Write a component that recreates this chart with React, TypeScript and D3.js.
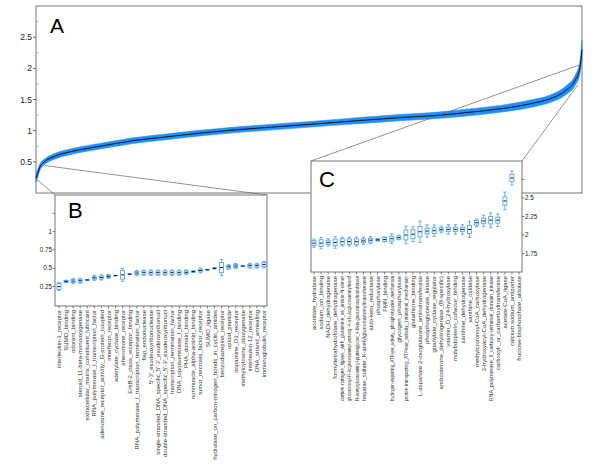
import React from 'react';
import * as d3 from 'd3';

// Panel A: sorted medians (rank fraction -> value) with spread
const aRank = [0, 0.0037, 0.0073, 0.0128, 0.02, 0.029, 0.044, 0.062, 0.09, 0.117, 0.178, 0.238, 0.3, 0.361, 0.421, 0.484, 0.544, 0.604, 0.667, 0.727, 0.788, 0.85, 0.91, 0.941, 0.971, 0.987, 0.996, 1.0];
const aMedian = [0.24, 0.33, 0.42, 0.48, 0.53, 0.57, 0.62, 0.66, 0.71, 0.75, 0.84, 0.9, 0.96, 1.01, 1.05, 1.09, 1.13, 1.17, 1.21, 1.24, 1.29, 1.35, 1.44, 1.51, 1.65, 1.8, 2.0, 2.3];
const aSpread = [0.07, 0.06, 0.05, 0.045, 0.045, 0.045, 0.045, 0.045, 0.045, 0.045, 0.045, 0.045, 0.045, 0.045, 0.045, 0.045, 0.045, 0.05, 0.05, 0.05, 0.055, 0.055, 0.06, 0.06, 0.07, 0.08, 0.1, 0.15];
const aTicks = [0.5, 1, 1.5, 2, 2.5];
const aMinor = [0.25, 0.75, 1.25, 1.75, 2.25, 2.75];

// Panel B
const bLabels = [
  'interleukin-3_receptor', 'SUMO_binding', 'odorant_binding', 'steroid_11-beta-monooxygenase',
  'extracellular_matrix_constituent_lubricant', 'RNA_polymerase_I_transcription_factor',
  'adenosine_receptor_activity,_G-protein_coupled', 'interferon_receptor', 'adenylate_cyclase_binding',
  'pheromone_receptor', 'ErbB-2_class_receptor_binding', 'RNA_polymerase_I_transcription_termination_factor',
  'flap_endonuclease', "5'-3'_exodeoxyribonuclease", "single-stranded_DNA_specific_5'-3'_exodeoxyribonucl",
  "double-stranded_DNA_specific_5'-3'_exodeoxyribonucl", 'transcription_termination_factor',
  'DNA_topoisomerase_I_binding', 'PHA_domain_binding', 'nonmuscle_alpha-actinin_binding',
  'tumor_necrosis_factor_receptor', 'SUMO_ligase', 'hydrolase_on_carbon-nitrogen_bonds_in_cyclic_amides',
  'benzodiazepine_receptor', 'opioid_peptide', 'dopamine_D3_receptor', 'methylcytosine_dioxygenase',
  'interleukin-12_receptor', 'DNA_strand_annealing', 'immunoglobulin_receptor'
];
const bMedian = [0.25, 0.32, 0.325, 0.33, 0.34, 0.37, 0.375, 0.39, 0.4, 0.41, 0.42, 0.435, 0.44, 0.44, 0.44, 0.44, 0.44, 0.44, 0.445, 0.455, 0.47, 0.48, 0.5, 0.51, 0.52, 0.53, 0.53, 0.535, 0.535, 0.55];
const bBox = [0.04, 0.012, 0.02, 0.02, 0.003, 0.02, 0.02, 0.015, 0.003, 0.058, 0.003, 0.022, 0.023, 0.023, 0.023, 0.023, 0.023, 0.023, 0.02, 0.008, 0.02, 0.003, 0.006, 0.07, 0.02, 0.022, 0.003, 0.02, 0.02, 0.03];
const bWhisk = [0.055, 0.018, 0.035, 0.035, 0.003, 0.035, 0.035, 0.028, 0.003, 0.088, 0.003, 0.037, 0.037, 0.037, 0.037, 0.037, 0.037, 0.037, 0.033, 0.012, 0.033, 0.003, 0.01, 0.11, 0.033, 0.035, 0.003, 0.033, 0.033, 0.045];
const bTicks = [0.25, 0.5, 0.75, 1];
const bMinor = [1.25];

// Panel C
const cLabels = [
  'aconitate_hydratase', 'sodium_ion_binding', 'NADH_dehydrogenase', 'formyltetrahydrofolate_dehydrogenase',
  'carbon-nitrogen_ligase,_with_glutamine_as_amido-N-donor',
  'glucuronosyl-N-Acglucosaminyl-proteog.-4-a-N-Acglucosaminyltransf',
  'N-acetylglucosaminyl-proteoglycan_4-beta-glucuronosyltransferase',
  'heparan_sulfate_N-acetylglucosaminyltransferase', 'aldo-keto_reductase', 'phosphorylase', 'FMN_binding',
  'hydrogen-exporting_ATPase_activity,_phosphorylative_mechanism', 'glycogen_phosphorylase',
  'proton-transporting_ATPase_activity,_rotational_mechanism', 'glutathione_binding',
  'L-aspartate:2-oxoglutarate_aminotransferase', 'phosphoglycerate_kinase', 'guanylate_cyclase_regulator',
  'androsterone_dehydrogenase_(B-specific)', 'vitamin_D_24-hydroxylase', 'molybdopterin_cofactor_binding',
  'xanthine_dehydrogenase', 'xanthine_oxidase', 'methylcrotonoyl-CoA_carboxylase',
  '3-hydroxyacyl-CoA_dehydrogenase', 'RNA_polymerase_II_carboxy-terminal_domain_kinase',
  'carboxyl-_or_carbamoyltransferase', 'acetate-CoA_ligase', 'calcium:sodium_antiporter',
  'fructose-bisphosphate_aldolase'
];
const cMedian = [1.89, 1.89, 1.9, 1.9, 1.91, 1.91, 1.91, 1.92, 1.93, 1.935, 1.94, 1.95, 1.965, 2.0, 2.01, 2.044, 2.054, 2.058, 2.076, 2.076, 2.076, 2.076, 2.076, 2.165, 2.19, 2.2, 2.2, 2.46, 2.77, null];
const cBox = [0.033, 0.045, 0.03, 0.045, 0.038, 0.038, 0.038, 0.025, 0.027, 0.013, 0.025, 0.033, 0.022, 0.067, 0.06, 0.07, 0.038, 0.038, 0.022, 0.03, 0.03, 0.03, 0.055, 0.03, 0.038, 0.05, 0.04, 0.055, 0.05, 0];
const cWhisk = [0.055, 0.078, 0.05, 0.078, 0.06, 0.06, 0.06, 0.047, 0.05, 0.013, 0.033, 0.065, 0.03, 0.12, 0.1, 0.145, 0.083, 0.078, 0.045, 0.065, 0.065, 0.065, 0.11, 0.05, 0.078, 0.1, 0.085, 0.12, 0.095, 0];
const cTicks = [1.75, 2, 2.25, 2.5];
const cMinor = [2.75];

// zoom-connector anchors on panel A (rank, value)
const zoomB = [[0, 0.23], [0.0165, 0.44]];
const zoomC = [[0.994, 2.05], [0.992, 1.73]];

const BLUE = '#1e8fff';
const BOXBLUE = '#3d9dff';
const FRAME = '#777';
const FONT = "'Liberation Sans', Arial, Helvetica, sans-serif";
const LABEL_SIZE = 6.0;
const LABEL_MAX = 125; // long category names are squeezed to this length

type BoxProps = {
  labels: string[]; med: (number | null)[]; box: number[]; whisk: number[];
  x: d3.ScalePoint<string>; y: d3.ScaleLinear<number, number>;
};
function Boxes({ labels, med, box, whisk, x, y }: BoxProps) {
  return (
    <g>
      {labels.map((l, i) => {
        const m = med[i];
        if (m == null) return null;
        const cx = x(l) as number;
        const bw = 2;
        const cap = 1.6;
        const yt = y(m + box[i]), yb = y(m - box[i]);
        const wt = y(m + whisk[i]), wb = y(m - whisk[i]);
        return (
          <g key={l}>
            <line x1={cx} x2={cx} y1={wt} y2={yt} stroke={BOXBLUE} strokeWidth={0.8} />
            <line x1={cx} x2={cx} y1={yb} y2={wb} stroke={BOXBLUE} strokeWidth={0.8} />
            <line x1={cx - cap} x2={cx + cap} y1={wt} y2={wt} stroke={BOXBLUE} strokeWidth={0.8} />
            <line x1={cx - cap} x2={cx + cap} y1={wb} y2={wb} stroke={BOXBLUE} strokeWidth={0.8} />
            <rect x={cx - bw} y={yt} width={bw * 2} height={Math.max(0.1, yb - yt)} fill="none" stroke={BOXBLUE} strokeWidth={0.8} />
            <line x1={cx - 1.5} x2={cx + 1.5} y1={y(m)} y2={y(m)} stroke="#111" strokeWidth={1} />
          </g>
        );
      })}
    </g>
  );
}

function CatLabels({ labels, x, y0, maxLen }: { labels: string[]; x: d3.ScalePoint<string>; y0: number; maxLen?: number }) {
  return (
    <g>
      {labels.map((l) => {
        const cx = x(l) as number;
        const est = l.length * LABEL_SIZE * 0.47;
        const squeeze = maxLen && est > maxLen;
        return (
          <g key={l}>
            <line x1={cx} x2={cx} y1={y0} y2={y0 + 2.5} stroke="#333" strokeWidth={0.6} />
            <text transform={`translate(${cx + 2.1},${y0 + 4}) rotate(-90)`} textAnchor="end"
              fontSize={squeeze ? LABEL_SIZE * 0.92 : LABEL_SIZE} fontFamily={FONT} fill="#333"
              {...(squeeze ? { textLength: maxLen, lengthAdjust: 'spacingAndGlyphs' } : {})}>{l}</text>
          </g>
        );
      })}
    </g>
  );
}

export default function App() {
  const A = { l: 36, t: 6, r: 582, b: 193 };
  const xA = d3.scaleLinear().domain([0, 1]).range([A.l, A.r]);
  const yA = d3.scaleLinear().domain([0, 3]).range([A.b, A.t]);
  const pts = aRank.map((r, i) => ({ r, m: aMedian[i], s: aSpread[i] }));
  const area = d3.area<{ r: number; m: number; s: number }>()
    .x((d) => xA(d.r)).y0((d) => yA(d.m - d.s)).y1((d) => yA(d.m + d.s)).curve(d3.curveMonotoneX);
  const line = d3.line<{ r: number; m: number; s: number }>()
    .x((d) => xA(d.r)).y((d) => yA(d.m)).curve(d3.curveMonotoneX);

  const B = { l: 55, t: 195, r: 267, b: 306 };
  const xB = d3.scalePoint<string>().domain(bLabels).range([59, 264]);
  const yB = d3.scaleLinear().domain([-0.015, 1.5]).range([B.b, B.t]);

  const C = { l: 311, t: 161, r: 522, b: 272 };
  const xC = d3.scalePoint<string>().domain(cLabels).range([314, 519]);
  const yC = d3.scaleLinear().domain([1.5, 3]).range([C.b, C.t]);

  return (
    <svg width={600} height={464} style={{ position: 'absolute', left: 0, top: 0, background: '#fff' }}>
      <rect x={0} y={0} width={600} height={464} fill="#fff" />
      {/* Panel A */}
      <rect x={A.l} y={A.t} width={A.r - A.l} height={A.b - A.t} fill="none" stroke={FRAME} strokeWidth={1} />
      {aTicks.map((t) => (
        <g key={t}>
          <line x1={A.l - 3} x2={A.l} y1={yA(t)} y2={yA(t)} stroke="#333" strokeWidth={0.7} />
          <text x={A.l - 4} y={yA(t) + 3} textAnchor="end" fontSize={8.5} fontFamily={FONT} fill="#222">{t}</text>
        </g>
      ))}
      {aMinor.map((t) => (
        <line key={t} x1={A.l} x2={A.l + 3} y1={yA(t)} y2={yA(t)} stroke="#999" strokeWidth={0.6} />
      ))}
      <path d={area(pts) || ''} fill={BLUE} stroke={BLUE} strokeWidth={0.6} />
      <path d={line(pts) || ''} fill="none" stroke="#111" strokeWidth={1} />
      <text x={50} y={33} fontSize={21} fontFamily={FONT} fill="#000">A</text>

      {/* zoom connectors */}
      <line x1={xA(zoomB[0][0])} y1={yA(zoomB[0][1])} x2={B.l} y2={B.t} stroke="#666" strokeWidth={0.7} />
      <line x1={xA(zoomB[1][0])} y1={yA(zoomB[1][1])} x2={B.r} y2={B.t} stroke="#666" strokeWidth={0.7} />
      <line x1={xA(zoomC[0][0])} y1={yA(zoomC[0][1])} x2={C.l} y2={C.t} stroke="#666" strokeWidth={0.7} />
      <line x1={xA(zoomC[1][0])} y1={yA(zoomC[1][1])} x2={C.r} y2={C.t} stroke="#666" strokeWidth={0.7} />

      {/* Panel B */}
      <rect x={B.l} y={B.t} width={B.r - B.l} height={B.b - B.t} fill="#fff" stroke={FRAME} strokeWidth={1} />
      {bTicks.map((t) => (
        <g key={t}>
          <line x1={B.l - 2.5} x2={B.l} y1={yB(t)} y2={yB(t)} stroke="#333" strokeWidth={0.6} />
          <text x={B.l - 3} y={yB(t) + 2} textAnchor="end" fontSize={6.3} fontFamily={FONT} fill="#222">{t}</text>
        </g>
      ))}
      {bMinor.map((t) => (
        <line key={t} x1={B.l - 2.5} x2={B.l} y1={yB(t)} y2={yB(t)} stroke="#333" strokeWidth={0.6} />
      ))}
      <Boxes labels={bLabels} med={bMedian} box={bBox} whisk={bWhisk} x={xB} y={yB} />
      <CatLabels labels={bLabels} x={xB} y0={B.b} />
      <text x={68} y={218} fontSize={22} fontFamily={FONT} fill="#000">B</text>

      {/* Panel C */}
      <rect x={C.l} y={C.t} width={C.r - C.l} height={C.b - C.t} fill="#fff" stroke={FRAME} strokeWidth={1} />
      {cTicks.map((t) => (
        <g key={t}>
          <line x1={C.r} x2={C.r + 2.5} y1={yC(t)} y2={yC(t)} stroke="#333" strokeWidth={0.6} />
          <text x={C.r + 3} y={yC(t) + 2} textAnchor="start" fontSize={6.3} fontFamily={FONT} fill="#222">{t}</text>
        </g>
      ))}
      {cMinor.map((t) => (
        <line key={t} x1={C.r} x2={C.r + 2.5} y1={yC(t)} y2={yC(t)} stroke="#333" strokeWidth={0.6} />
      ))}
      <Boxes labels={cLabels} med={cMedian} box={cBox} whisk={cWhisk} x={xC} y={yC} />
      <CatLabels labels={cLabels} x={xC} y0={C.b} maxLen={LABEL_MAX} />
      <text x={319} y={187} fontSize={22} fontFamily={FONT} fill="#000">C</text>
    </svg>
  );
}
